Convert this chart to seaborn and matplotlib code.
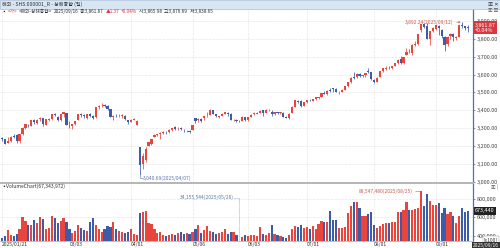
import pandas as pd
import numpy as np
import matplotlib
matplotlib.use("Agg")
import matplotlib.pyplot as plt
from matplotlib.patches import Rectangle
import matplotlib.transforms as mtrans
import seaborn as sns

# ---------------- data ----------------
HOLIDAYS = ["2025-01-28", "2025-01-29", "2025-01-30", "2025-01-31", "2025-02-03", "2025-02-04",
            "2025-04-04", "2025-05-01", "2025-05-02", "2025-05-05", "2025-06-02"]
dates = [d for d in pd.bdate_range("2025-01-21", "2025-09-16")
         if d.strftime("%Y-%m-%d") not in HOLIDAYS]

opens = [3246, 3238, 3218, 3228, 3255,
         3262, 3226, 3265, 3300, 3320, 3314, 3345, 3330, 3350, 3355, 3320, 3348, 3352, 3380, 3365, 3345, 3378, 3385,
         3320, 3310, 3325, 3345, 3378, 3375, 3355, 3382, 3368, 3360, 3420, 3428, 3428, 3425, 3405, 3362, 3370, 3368, 3366, 3370, 3345,
         3335, 3346, 3320, 3193, 3100, 3120, 3202, 3210, 3252, 3262, 3265, 3272, 3278, 3280, 3290, 3305, 3295, 3300, 3292, 3285, 3285,
         3290, 3357, 3345, 3350, 3355, 3372, 3375, 3400, 3377, 3365, 3370, 3382, 3386, 3380, 3345, 3345, 3341, 3342, 3360,
         3345, 3362, 3378, 3382, 3385, 3400, 3385, 3400, 3390, 3378, 3388, 3386, 3386, 3364, 3355, 3385, 3420, 3452, 3450, 3425,
         3445, 3458, 3452, 3462, 3470, 3475, 3498, 3492, 3512, 3524, 3520, 3500, 3505, 3516, 3535, 3560, 3585, 3585, 3605, 3590, 3595, 3620, 3612,
         3568, 3560, 3585, 3618, 3632, 3638, 3635, 3648, 3665, 3685, 3665, 3710, 3728, 3720, 3766, 3770, 3848, 3880, 3870, 3800, 3845,
         3855, 3873, 3850, 3810, 3768, 3815, 3825, 3805, 3812, 3878, 3870, 3865.98]
highs = [3250, 3240, 3250, 3257, 3268,
         3268, 3270, 3306, 3323, 3325, 3347, 3350, 3352, 3360, 3358, 3353, 3358, 3382, 3386, 3370, 3381, 3390, 3387,
         3339, 3325, 3343, 3382, 3386, 3380, 3380, 3385, 3375, 3420, 3430, 3439, 3435, 3430, 3407, 3372, 3380, 3377, 3378, 3372, 3347,
         3352, 3355, 3345, 3194, 3160, 3195, 3225, 3240, 3265, 3270, 3278, 3282, 3283, 3293, 3301, 3310, 3305, 3305, 3298, 3292, 3290,
         3316, 3358, 3355, 3355, 3370, 3390, 3408, 3403, 3380, 3370, 3385, 3392, 3390, 3385, 3350, 3350, 3348, 3368, 3362,
         3365, 3378, 3390, 3388, 3402, 3404, 3410, 3405, 3400, 3390, 3392, 3392, 3390, 3368, 3385, 3422, 3456, 3455, 3460, 3446,
         3460, 3462, 3465, 3475, 3475, 3498, 3510, 3512, 3525, 3527, 3522, 3510, 3518, 3536, 3560, 3584, 3615, 3606, 3609, 3600, 3610, 3636, 3614,
         3575, 3585, 3618, 3636, 3645, 3645, 3650, 3666, 3688, 3704, 3698, 3746, 3745, 3768, 3787, 3826, 3884, 3888, 3887, 3845, 3867,
         3876, 3877, 3855, 3815, 3815, 3830, 3830, 3815, 3876, 3892.24, 3872, 3876.69]
lows = [3226, 3212, 3215, 3225, 3245,
        3220, 3220, 3262, 3296, 3306, 3310, 3325, 3325, 3340, 3315, 3318, 3342, 3345, 3368, 3340, 3342, 3362, 3318,
        3304, 3298, 3320, 3344, 3364, 3358, 3350, 3365, 3350, 3358, 3408, 3420, 3418, 3403, 3360, 3345, 3362, 3360, 3358, 3348, 3325,
        3335, 3344, 3318, 3040.69, 3070, 3110, 3200, 3205, 3250, 3255, 3240, 3268, 3270, 3275, 3285, 3290, 3290, 3290, 3280, 3280, 3275,
        3288, 3330, 3335, 3335, 3348, 3365, 3372, 3378, 3360, 3355, 3368, 3378, 3370, 3345, 3338, 3332, 3335, 3340, 3343,
        3340, 3360, 3375, 3378, 3384, 3370, 3385, 3395, 3370, 3372, 3380, 3380, 3360, 3355, 3350, 3385, 3418, 3440, 3420, 3422,
        3440, 3450, 3450, 3455, 3465, 3475, 3490, 3488, 3505, 3505, 3500, 3492, 3500, 3514, 3532, 3555, 3575, 3580, 3588, 3585, 3585, 3608, 3570,
        3553, 3558, 3585, 3615, 3625, 3630, 3632, 3645, 3660, 3660, 3660, 3708, 3720, 3710, 3760, 3765, 3840, 3858, 3798, 3763, 3835,
        3848, 3818, 3805, 3730, 3760, 3800, 3790, 3795, 3810, 3860, 3850, 3838.65]
closes = [3242, 3213, 3230, 3252, 3250,
          3229, 3270, 3303, 3322, 3318, 3346, 3333, 3346, 3355, 3324, 3351, 3350, 3379, 3373, 3346, 3380, 3388, 3320,
          3316, 3324, 3342, 3381, 3372, 3366, 3379, 3371, 3358, 3419, 3426, 3429, 3426, 3408, 3364, 3370, 3369, 3368, 3373, 3351, 3336,
          3348, 3350, 3342, 3097, 3145, 3186, 3223, 3238, 3262, 3268, 3276, 3280, 3277, 3291, 3300, 3296, 3297, 3295, 3288, 3287, 3279,
          3316, 3343, 3353, 3342, 3369, 3374, 3404, 3380, 3367, 3367, 3381, 3388, 3380, 3348, 3346, 3340, 3340, 3363, 3347,
          3361, 3376, 3384, 3385, 3399, 3384, 3402, 3403, 3377, 3388, 3387, 3388, 3362, 3359, 3382, 3420, 3455, 3448, 3424, 3444,
          3457, 3455, 3461, 3473, 3473, 3497, 3493, 3509, 3510, 3520, 3505, 3503, 3516, 3534, 3560, 3582, 3582, 3605, 3593, 3597, 3609, 3615, 3573,
          3560, 3583, 3617, 3634, 3639, 3635, 3647, 3665, 3683, 3666, 3697, 3728, 3727, 3766, 3771, 3825, 3884, 3868, 3800, 3843, 3858,
          3876, 3858, 3813, 3766, 3812, 3826, 3807, 3812, 3875, 3871, 3860, 3861.87]
# volume in units of x100 shares, written in thousands
volumes_k = [376, 393, 466, 412, 401,
             423, 477, 604, 556, 520, 522, 575, 540, 600, 580, 478, 485, 612, 598, 538, 560, 590, 545,
             470, 428, 452, 512, 488, 462, 455, 548, 592, 515, 478, 440, 470, 505, 495, 545, 468, 455, 445, 425, 440,
             475, 418, 405, 652, 658, 672, 535, 528, 478, 425, 442, 408, 398, 402, 420, 404, 432, 436, 418, 430, 415,
             438, 470, 520, 432, 458, 502, 455, 440, 418, 432, 445, 470, 420, 438, 440, 410, 341.55544, 386, 402,
             395, 402, 410, 398, 490, 420, 410, 425, 513, 420, 405, 398, 382, 375, 410, 478, 510, 492, 520, 485,
             498, 475, 505, 478, 530, 560, 552, 548, 665, 575, 575, 488, 488, 500, 650, 720, 770, 770, 705, 610, 615, 640, 655,
             520, 480, 505, 525, 540, 535, 550, 545, 655, 655, 683, 770, 683, 683, 690, 700, 885.4748, 727, 858, 785, 740,
             740, 760, 650, 705, 640, 660, 610, 540, 620, 705, 655, 673.43972]

tick_dates = ["2025-01-21", "2025-03-03", "2025-04-01", "2025-05-06",
              "2025-06-03", "2025-07-01", "2025-08-01", "2025-09-01"]
tick_labels = ["2025/01/21", "03/03", "04/01", "05/06", "06/03", "07/01", "08/01", "09/01"]
price_ticks = [3000, 3100, 3200, 3300, 3400, 3500, 3600, 3700, 3800, 3900]
vol_ticks = [400000, 600000, 800000]
legend_pieces = [("▪", "#222222"), ("<가>", "#d04848"), ("<해외-상해종합>", "#333333"),
                 ("2025/09/16", "#333333"), ("종:3,861.87", "#333333"),
                 ("▲1.37", "#d9363e"), ("+0.04%", "#d9363e"),
                 ("시:3,865.98", "#333333"), ("고:3,876.69", "#333333"),
                 ("저:3,838.65", "#333333")]

df = pd.DataFrame({"date": dates, "open": opens, "high": highs, "low": lows,
                   "close": closes, "volume": np.array(volumes_k) * 1000})
df["i"] = np.arange(len(df))
df["dir"] = np.where(df["close"] >= df["open"], "up", "down")
UP, DOWN = "#e8453c", "#3d5ba9"
pal = {"up": UP, "down": DOWN}

# ---------------- style ----------------
sns.set_theme(style="white")
plt.rcParams["font.family"] = ["Noto Sans CJK KR", "DejaVu Sans"]
plt.rcParams["axes.unicode_minus"] = False

W, H = 500, 248
fig = plt.figure(figsize=(W / 100, H / 100), dpi=100, facecolor="white")
renderer = fig.canvas.get_renderer()

def fx(px):
    return px / W

def fy(py):
    return 1 - py / H

# title bar
fig.patches.append(Rectangle((0, fy(8.5)), 1, 8.5 / H, transform=fig.transFigure,
                             facecolor="#d8e6f3", edgecolor="#a9bfd6", lw=0.5, zorder=0))
fig.text(fx(2), fy(4.3), "해외 - SHS:000001_R - 상해종합 (일)", fontsize=3.7,
         color="#333333", va="center", ha="left")
fig.text(fx(498), fy(4.3), "▣ ✕", fontsize=3.7, color="#333333", va="center", ha="right")

XL = (-0.68, 160.7)
tick_idx = [int(df.index[df["date"] == pd.Timestamp(d)][0]) for d in tick_dates]

# ---------------- price panel ----------------
ax = fig.add_axes([0, fy(183), fx(473), (183 - 9) / H])
ax.set_xlim(*XL)
ax.set_ylim(2994, 3966)
ax.vlines(df["i"], df["low"], df["high"], colors=df["dir"].map(pal), lw=0.55, zorder=2)
body = np.maximum((df["close"] - df["open"]).abs(), 0.9)
ax.bar(df["i"], body, bottom=np.minimum(df["open"], df["close"]), width=0.75,
       color=df["dir"].map(pal), linewidth=0, zorder=3)

ax.set_yticks(price_ticks)
ax.set_yticklabels([f"{v:,.2f}" for v in price_ticks])
ax.yaxis.tick_right()
ax.tick_params(axis="y", length=1.5, width=0.4, pad=1, labelsize=4.0,
               colors="#444444", right=True, left=False)
ax.set_xticks(tick_idx)
ax.tick_params(axis="x", length=0, labelbottom=False)
ax.grid(True, ls=(0, (1, 1.5)), lw=0.4, color="#c9c9c9")
for s in ["top", "left"]:
    ax.spines[s].set_visible(False)
ax.spines["right"].set_color("#4f6fae")
ax.spines["right"].set_linewidth(0.9)
ax.spines["bottom"].set_color("#b5b5b5")
ax.spines["bottom"].set_linewidth(1.4)

# legend line: coloured pieces laid out one after another
xpos = 1.5
for s, c in legend_pieces:
    t = fig.text(fx(xpos), fy(11.5), s, fontsize=3.4, color=c, va="center", ha="left")
    xpos += t.get_window_extent(renderer).width + 1.6
fig.text(fx(498), fy(11), "▣ ⊠", fontsize=3.3, color="#555555", va="center", ha="right")

# max / min annotations
imax = int(df["high"].idxmax())
imin = int(df["low"].idxmin())
ax.annotate(f"{df['high'][imax]:,.2f}({df['date'][imax]:%Y/%m/%d})",
            xy=(imax - 0.5, df["high"][imax]), xytext=(imax - 3.0, df["high"][imax]),
            ha="right", va="center", fontsize=3.5, color="#c8574f",
            arrowprops=dict(arrowstyle="->", lw=0.4, color="#c8574f",
                            shrinkA=0, shrinkB=0, mutation_scale=3))
lowline_y = 3022
ax.plot([imin, imin, imin + 1.0], [df["low"][imin], lowline_y, lowline_y],
        color="#5a78a8", lw=0.4, zorder=4, clip_on=False)
ax.text(imin + 1.1, lowline_y, f"{df['low'][imin]:,.2f}({df['date'][imin]:%Y/%m/%d})",
        ha="left", va="center", fontsize=3.5, color="#5a78a8")

# current price box
last = df.iloc[-1]
trans = mtrans.blended_transform_factory(ax.transAxes, ax.transData)
ax.text(1.004, last["close"], f"{last['close']:,.2f}\n+0.04%", transform=trans,
        ha="left", va="center", fontsize=3.9, color="white", linespacing=1.0,
        bbox=dict(boxstyle="square,pad=0.25", fc="#d9363e", ec="none"), clip_on=False)

# ---------------- volume panel ----------------
axv = fig.add_axes([0, fy(241), fx(473), (241 - 184) / H])
sns.barplot(data=df, x="i", y="volume", hue="dir", palette=pal, native_scale=True,
            dodge=False, width=0.75, errorbar=None, legend=False, linewidth=0,
            saturation=1, ax=axv)
axv.set_xlim(*XL)
axv.set_ylim(341555.44, 966000)
axv.set_xlabel("")
axv.set_ylabel("")
axv.set_yticks(vol_ticks)
axv.set_yticklabels([f"{v:,.0f}" for v in vol_ticks])
axv.yaxis.tick_right()
axv.tick_params(axis="y", length=1.5, width=0.4, pad=1, labelsize=4.0,
                colors="#444444", right=True, left=False)
axv.set_xticks(tick_idx)
axv.set_xticklabels(tick_labels, ha="left")
axv.tick_params(axis="x", length=0, pad=0.8, labelsize=3.6, colors="#333333")
axv.grid(True, ls=(0, (1, 1.5)), lw=0.4, color="#c9c9c9")
for s in ["top", "left"]:
    axv.spines[s].set_visible(False)
axv.spines["right"].set_color("#4f6fae")
axv.spines["right"].set_linewidth(0.9)
axv.spines["bottom"].set_color("#b5b5b5")
axv.spines["bottom"].set_linewidth(0.6)

fig.text(fx(1), fy(186.5), "▪VolumeChart(67,343,972)", fontsize=3.6, color="#333333",
         va="center", ha="left")
fig.text(fx(498), fy(186.5), "▣ |", fontsize=3.3, color="#555555", va="center", ha="right")

vmax = int(df["volume"].idxmax())
vmin = int(df["volume"].idxmin())
axv.annotate(f"{df['volume'][vmax] * 100:,.0f}({df['date'][vmax]:%Y/%m/%d})",
             xy=(vmax - 0.4, df["volume"][vmax]), xytext=(vmax - 3.0, df["volume"][vmax]),
             ha="right", va="center", fontsize=3.5, color="#c8574f",
             arrowprops=dict(arrowstyle="-", lw=0.4, color="#c8574f", shrinkA=0, shrinkB=0))
ymin_lab = 816000
axv.plot([vmin - 1.8, vmin, vmin], [ymin_lab, ymin_lab, df["volume"][vmin]],
         color="#5a78a8", lw=0.4, ls=(0, (1, 1)), zorder=4)
axv.text(vmin - 2.0, ymin_lab, f"{df['volume'][vmin] * 100:,.0f}({df['date'][vmin]:%Y/%m/%d})",
         ha="right", va="center", fontsize=3.5, color="#5a78a8")

transv = mtrans.blended_transform_factory(axv.transAxes, axv.transData)
axv.text(1.004, df["volume"].iloc[-1], f"{df['volume'].iloc[-1]:,.0f}", transform=transv,
         ha="left", va="center", fontsize=3.9, color="white",
         bbox=dict(boxstyle="square,pad=0.25", fc="#222222", ec="none"), clip_on=False)
fig.text(fx(498), fy(240), "[x100]", fontsize=3.6, color="#333333", va="center", ha="right",
         bbox=dict(boxstyle="square,pad=0.15", fc="white", ec="#888888", lw=0.3))
fig.text(fx(499), fy(245.5), f"{last['date']:%Y/%m/%d}", fontsize=3.6, color="white",
         va="center", ha="right",
         bbox=dict(boxstyle="square,pad=0.15", fc="#333333", ec="none"))

fig.savefig("out.png", dpi=100, facecolor="white")
